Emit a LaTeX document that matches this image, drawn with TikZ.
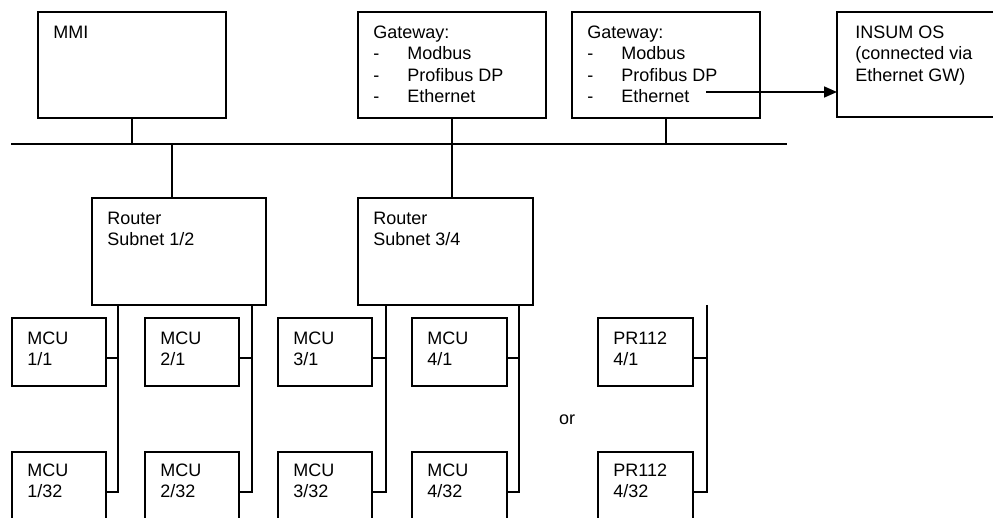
\documentclass[tikz,border=0pt]{standalone}
\usepackage{fontspec}
\setmainfont{Liberation Sans}
\usetikzlibrary{arrows.meta}

\tikzset{
  unit/.style n args={2}{draw, outer sep=0pt, inner sep=0pt, anchor=north west,
    minimum width=#1, minimum height=#2},
  boxtext/.style={anchor=north west, inner sep=0pt, align=left, xshift=14.5pt, yshift=-13pt}
}
\newcommand{\gwitem}[1]{\makebox[34pt][l]{-}#1}

\begin{document}
\begin{tikzpicture}[x=1pt, y=-1pt, line width=1.7pt, font=\fontsize{18}{21.5}\selectfont]
    \useasboundingbox (0,0) rectangle (993,518);
    \clip (0,0) rectangle (993,518);

    % Top row: MMI, gateways, INSUM OS
    \node[unit={188}{106}, label={[boxtext]north west:MMI}] (mmi) at (38,12) {};
    \node[unit={188}{106}, label={[boxtext]north west:{Gateway:\\\gwitem{Modbus}\\\gwitem{Profibus DP}\\\gwitem{Ethernet}}}] (gw1) at (358,12) {};
    \node[unit={188}{106}, label={[boxtext]north west:{Gateway:\\\gwitem{Modbus}\\\gwitem{Profibus DP}\\\gwitem{Ethernet}}}] (gw2) at (572,12) {};
    \node[unit={240}{105}, label={[boxtext, xshift=3pt]north west:{INSUM OS\\(connected via\\Ethernet GW)}}] (insum) at (837,12) {};

    % Routers
    \node[unit={174}{107}, label={[boxtext]north west:{Router\\Subnet 1/2}}] (rt1) at (92,198) {};
    \node[unit={175}{107}, label={[boxtext]north west:{Router\\Subnet 3/4}}] (rt2) at (358,198) {};

    % First units on each subnet
    \node[unit={94}{68}, label={[boxtext]north west:{MCU\\1/1}}] (mcu11) at (12,318) {};
    \node[unit={94}{68}, label={[boxtext]north west:{MCU\\2/1}}] (mcu21) at (145,318) {};
    \node[unit={94}{68}, label={[boxtext]north west:{MCU\\3/1}}] (mcu31) at (278,318) {};
    \node[unit={95}{68}, label={[boxtext]north west:{MCU\\4/1}}] (mcu41) at (412,318) {};
    \node[unit={95}{68}, label={[boxtext]north west:{PR112\\4/1}}] (pr41) at (598,318) {};

    % Last units on each subnet
    \node[unit={94}{90}, label={[boxtext, yshift=2pt]north west:{MCU\\1/32}}] (mcu132) at (12,452) {};
    \node[unit={94}{90}, label={[boxtext, yshift=2pt]north west:{MCU\\2/32}}] (mcu232) at (145,452) {};
    \node[unit={94}{90}, label={[boxtext, yshift=2pt]north west:{MCU\\3/32}}] (mcu332) at (278,452) {};
    \node[unit={95}{90}, label={[boxtext, yshift=2pt]north west:{MCU\\4/32}}] (mcu432) at (412,452) {};
    \node[unit={95}{90}, label={[boxtext, yshift=2pt]north west:{PR112\\4/32}}] (pr432) at (598,452) {};

    \node (or) at (567,420) {or};

    % Bus and taps
    \coordinate (busL) at (11,144);
    \coordinate (busR) at (787,144);
    \coordinate (tap1) at (172,198);
    \draw (busL) -- (busR);
    \draw (mmi.south) -- (mmi.south |- busL);
    \draw (gw1.south) -- (gw1.south |- rt2.north);
    \draw (gw2.south) -- (gw2.south |- busL);
    \draw (tap1) -- (tap1 |- busL);

    % Ethernet link to INSUM OS
    \coordinate (eth) at (706,92);
    \draw[-{Triangle[length=13pt,width=11pt]}] (eth) -- (eth -| insum.west);

    % Subnet lines
    \coordinate (d1) at (118,305);
    \coordinate (d2) at (252,305);
    \coordinate (d3) at (386,305);
    \coordinate (d4) at (519,305);
    \coordinate (d5) at (707,305);
    \draw (d1) |- ([yshift=-40pt]mcu132.north east);
    \draw ([yshift=-40pt]mcu11.north east) -| (d1);
    \draw (d2) |- ([yshift=-40pt]mcu232.north east);
    \draw ([yshift=-40pt]mcu21.north east) -| (d2);
    \draw (d3) |- ([yshift=-40pt]mcu332.north east);
    \draw ([yshift=-40pt]mcu31.north east) -| (d3);
    \draw (d4) |- ([yshift=-40pt]mcu432.north east);
    \draw ([yshift=-40pt]mcu41.north east) -| (d4);
    \draw (d5) |- ([yshift=-40pt]pr432.north east);
    \draw ([yshift=-40pt]pr41.north east) -| (d5);
\end{tikzpicture}
\end{document}
